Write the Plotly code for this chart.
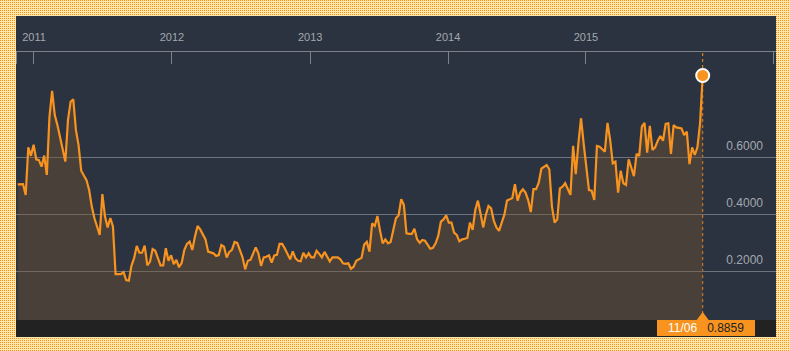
import zlib, struct, base64
import pandas as pd
import plotly.graph_objects as go

# ---------------- data ----------------
END_DATE = "2015-11-06"
N_WEEKS = 260
VALUES = [
    0.504, 0.505, 0.505, 0.467, 0.634, 0.604, 0.643, 0.592, 0.589, 0.566,
    0.605, 0.537, 0.741, 0.832, 0.747, 0.712, 0.671, 0.628, 0.584, 0.730,
    0.794, 0.802, 0.695, 0.642, 0.552, 0.535, 0.519, 0.484, 0.426, 0.385,
    0.356, 0.327, 0.470, 0.391, 0.353, 0.386, 0.356, 0.189, 0.189, 0.189,
    0.196, 0.168, 0.166, 0.218, 0.245, 0.288, 0.264, 0.264, 0.289, 0.220,
    0.232, 0.277, 0.271, 0.245, 0.220, 0.220, 0.280, 0.236, 0.255, 0.224,
    0.239, 0.213, 0.229, 0.274, 0.295,
    0.303, 0.274, 0.320, 0.358, 0.346, 0.328, 0.311, 0.268, 0.265, 0.262,
    0.253, 0.256, 0.291, 0.285, 0.247, 0.267, 0.274, 0.302, 0.299, 0.275,
    0.248, 0.206, 0.236, 0.239, 0.262, 0.283, 0.262, 0.218, 0.248, 0.250,
    0.255, 0.229, 0.255, 0.257, 0.295, 0.295, 0.279, 0.260, 0.241, 0.269,
    0.245, 0.236, 0.234, 0.264, 0.248, 0.262, 0.248, 0.248, 0.271, 0.260,
    0.248, 0.267, 0.248, 0.234, 0.248, 0.248, 0.248, 0.241, 0.227, 0.225,
    0.227, 0.208, 0.215, 0.236, 0.241, 0.246,
    0.293, 0.302, 0.268, 0.367, 0.358, 0.393, 0.341, 0.297, 0.311, 0.297,
    0.302, 0.346, 0.385, 0.395, 0.452, 0.432, 0.332, 0.330, 0.330, 0.348,
    0.311, 0.299, 0.309, 0.306, 0.291, 0.278, 0.281, 0.297, 0.323, 0.373,
    0.381, 0.395, 0.370, 0.370, 0.335, 0.327, 0.304, 0.311, 0.313, 0.316,
    0.370, 0.344, 0.414, 0.447, 0.402, 0.353, 0.397, 0.428, 0.420, 0.377,
    0.353, 0.341, 0.370, 0.397, 0.447, 0.452, 0.456, 0.505, 0.447, 0.475,
    0.487, 0.475, 0.449, 0.407, 0.487, 0.487,
    0.510, 0.559, 0.564, 0.572, 0.557, 0.426, 0.370, 0.381, 0.490, 0.496,
    0.508, 0.490, 0.467, 0.639, 0.540, 0.648, 0.736, 0.646, 0.554, 0.484,
    0.482, 0.449, 0.639, 0.636, 0.627, 0.619, 0.720, 0.660, 0.578, 0.584,
    0.475, 0.552, 0.508, 0.502, 0.592, 0.566, 0.533, 0.611, 0.604, 0.707,
    0.720, 0.615, 0.709, 0.625, 0.634, 0.657, 0.674, 0.657, 0.716, 0.718,
    0.611, 0.712, 0.704, 0.702, 0.700, 0.677, 0.689, 0.575, 0.634, 0.607,
    0.634, 0.718, 0.8859,
]
YEAR_TICKS = ["2011-01-01", "2012-01-01", "2013-01-01", "2014-01-01", "2015-01-01"]
YEAR_LABELS = ["2011", "2012", "2013", "2014", "2015"]
Y_TICKS = [0.2, 0.4, 0.6]
Y_LABELS = ["0.2000", "0.4000", "0.6000"]
X_RANGE = ["2010-11-14 10:00", "2016-05-18"]
Y_RANGE = [0.0281, 0.9684]
LAST_LABEL_DATE = "11/06"
LAST_LABEL_VALUE = "0.8859"

dates = pd.date_range(end=END_DATE, periods=N_WEEKS, freq="W-FRI")

# ---------------- style ----------------
W, H = 790, 351
L, R, T, B = 16, 14, 52, 31
PW, PH = W - L - R, H - T - B
NAVY = "#2b3340"
ORANGE = "#f7931e"
GRID = "#6e747b"
TXT = "#a3a8ae"
FONT = "Liberation Sans, Arial, sans-serif"


def pattern_png(w, h, c_dot, c_bg):
    even = b"\x00" + (bytes(c_dot) + bytes(c_bg)) * (w // 2) + (bytes(c_dot) if w % 2 else b"")
    odd = b"\x00" + bytes(c_bg) * w
    raw = b"".join(even if y % 2 == 0 else odd for y in range(h))

    def chunk(t, d):
        c = struct.pack(">I", len(d)) + t + d
        return c + struct.pack(">I", zlib.crc32(t + d) & 0xFFFFFFFF)

    png = (b"\x89PNG\r\n\x1a\n"
           + chunk(b"IHDR", struct.pack(">IIBBBBB", w, h, 8, 2, 0, 0, 0))
           + chunk(b"IDAT", zlib.compress(raw, 9))
           + chunk(b"IEND", b""))
    return "data:image/png;base64," + base64.b64encode(png).decode()


fig = go.Figure()

fig.add_trace(go.Scatter(
    x=dates, y=VALUES, mode="lines",
    line=dict(color=ORANGE, width=2.2),
    fill="tozeroy", fillcolor="rgba(120,84,49,0.4)",
    hoverinfo="skip",
))
fig.add_trace(go.Scatter(
    x=[dates[-1]], y=[VALUES[-1]], mode="markers",
    marker=dict(size=13, color=ORANGE, line=dict(color="white", width=2)),
    cliponaxis=False, hoverinfo="skip",
))

# background pattern
fig.add_layout_image(
    source=pattern_png(W, H, (247, 146, 28), (255, 230, 170)),
    xref="paper", yref="paper", x=-L / PW, y=1 + T / PH,
    sizex=W / PW, sizey=H / PH, xanchor="left", yanchor="top",
    sizing="stretch", layer="below",
)

shapes = [
    # dark panel
    dict(type="rect", xref="paper", yref="paper", x0=0, x1=1,
         y0=-17 / PH, y1=1 + 36 / PH, fillcolor=NAVY, line=dict(width=0), layer="below"),
    # bottom bar
    dict(type="rect", xref="paper", yref="paper", x0=0, x1=1,
         y0=-17 / PH, y1=0, fillcolor="#222222", line=dict(width=0), layer="below"),
    # edge ticks
    dict(type="line", xref="paper", yref="paper", x0=0.5 / PW, x1=0.5 / PW,
         y0=1, y1=1 - 12 / PH, line=dict(color="#7d8288", width=1)),
    dict(type="line", xref="paper", yref="paper", x0=1 - 2.5 / PW, x1=1 - 2.5 / PW,
         y0=1, y1=1 - 12 / PH, line=dict(color="#7d8288", width=1)),
    # dashed current-date line
    dict(type="line", xref="x", yref="paper", x0=dates[-1], x1=dates[-1],
         y0=0, y1=1, line=dict(color=ORANGE, width=1, dash="dot"), layer="below"),
    # pointer triangle
    dict(type="path", xref="x", yref="paper", xsizemode="pixel", ysizemode="pixel",
         xanchor=dates[-1], yanchor=0, path="M-6,0 L6,0 L0,8 Z",
         fillcolor=ORANGE, line=dict(width=0)),
]

fig.update_layout(
    width=W, height=H,
    margin=dict(l=L, r=R, t=T, b=B, pad=0),
    paper_bgcolor="#fbd9a0", plot_bgcolor=NAVY,
    showlegend=False, hovermode=False,
    font=dict(family=FONT, size=11, color=TXT),
    shapes=shapes,
    xaxis=dict(
        type="date", range=X_RANGE, side="top",
        tickvals=YEAR_TICKS, ticktext=YEAR_LABELS,
        ticks="inside", ticklen=12, tickcolor="#7d8288", tickwidth=1,
        showline=True, linecolor="#7d8288", linewidth=1,
        showgrid=False, zeroline=False,
        tickfont=dict(size=11, color=TXT), ticklabelstandoff=6,
        fixedrange=True,
    ),
    yaxis=dict(
        range=Y_RANGE, side="right",
        tickvals=Y_TICKS, ticktext=Y_LABELS,
        ticks="", ticklabelposition="inside top", ticklabelstandoff=10,
        ticklabelshift=-3,
        showgrid=True, gridcolor=GRID, gridwidth=1,
        showline=False, zeroline=False,
        tickfont=dict(size=12, color=TXT),
        fixedrange=True,
    ),
    annotations=[dict(
        x=dates[-1], xref="x", y=0, yref="paper", yanchor="top", xanchor="center",
        xshift=3,
        text=("\u00a0\u00a0\u00a0<span style='color:#ffffff'>" + LAST_LABEL_DATE + "</span>"
              "\u00a0\u00a0\u00a0<span style='color:#222222'>" + LAST_LABEL_VALUE + "</span>\u00a0\u00a0\u00a0"),
        showarrow=False, bgcolor=ORANGE, borderpad=1, borderwidth=0,
        font=dict(family=FONT, size=12),
    )],
)

fig.write_html("out.html")
